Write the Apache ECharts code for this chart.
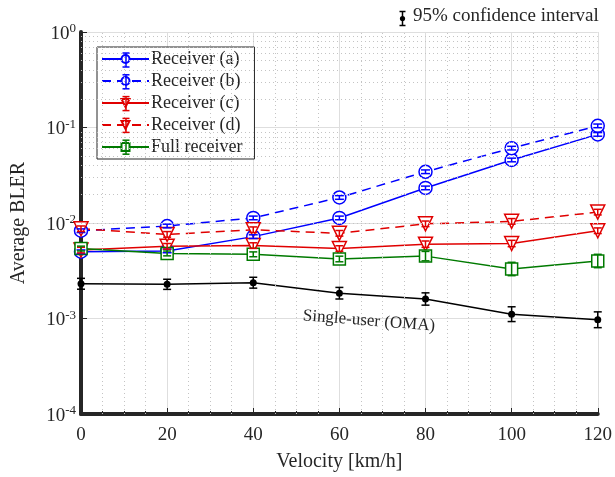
<!DOCTYPE html>
<html>
<head>
<meta charset="utf-8">
<script src="https://cdn.jsdelivr.net/npm/echarts@6/dist/echarts.min.js"></script>
<style>
  html, body { margin: 0; padding: 0; background: #fff; }
  #chart { width: 615px; height: 477px; }
</style>
</head>
<body>
<div id="chart"></div>
<script>
// velocities (km/h)
const velocity = [0, 20, 40, 60, 80, 100, 120]

// average BLER
const recA = [0.0050, 0.0051, 0.0072, 0.0113, 0.0233, 0.0457, 0.0847]
const recB = [0.0083, 0.0093, 0.0113, 0.0185, 0.0344, 0.0608, 0.1040]
const recC = [0.0052, 0.0057, 0.0058, 0.0054, 0.0060, 0.0061, 0.0083]
const recD = [0.0087, 0.0076, 0.0085, 0.0078, 0.0098, 0.0104, 0.0130]
const fullRec = [0.0054, 0.0048, 0.0047, 0.0042, 0.0045, 0.0033, 0.0040]
const singleUser = [0.00231, 0.00228, 0.00237, 0.00184, 0.00160, 0.00111, 0.00097]

// 95% confidence interval as multiplicative factor (value / f .. value * f)
const errA = [1.045, 1.045, 1.045, 1.045, 1.045, 1.045, 1.045]
const errB = [1.045, 1.045, 1.045, 1.045, 1.045, 1.045, 1.045]
const errC = [1.07, 1.07, 1.07, 1.07, 1.08, 1.08, 1.07]
const errD = [1.07, 1.07, 1.07, 1.07, 1.07, 1.07, 1.07]
const errFull = [1.06, 1.06, 1.06, 1.07, 1.12, 1.175, 1.175]
const errSingle = [1.14, 1.13, 1.14, 1.15, 1.16, 1.195, 1.21]

const yMinor = [2, 3, 4, 5, 6, 7, 8, 9]
const yDecades = [1e-4, 1e-3, 1e-2, 1e-1]
const xMinor = [5, 10, 15, 25, 30, 35, 45, 50, 55, 65, 70, 75, 85, 90, 95, 105, 110, 115]

const legendNames = ['Receiver (a)', 'Receiver (b)', 'Receiver (c)', 'Receiver (d)', 'Full receiver']
const legendColors = ['#0000ff', '#0000ff', '#e00000', '#e00000', '#007a00']

const FONT = '"Liberation Serif", "Times New Roman", serif'
const INK = '#262626'
const BLUE = '#0000ff'
const RED = '#e00000'
const GREEN = '#007a00'

function pairs (vals) {
  return velocity.map((v, i) => [v, vals[i]])
}

function errData (vals, err) {
  return velocity.map((v, i) => [v, vals[i] / err[i], vals[i] * err[i]])
}

// 误差棒（自定义系列）
function errSeries (name, vals, err, color, capW) {
  return {
    name: name,
    type: 'custom',
    data: errData(vals, err),
    encode: { x: 0, y: [1, 2] },
    z: 5,
    silent: true,
    renderItem: function (params, api) {
      const x = api.value(0)
      const top = api.coord([x, api.value(2)])
      const bot = api.coord([x, api.value(1)])
      const w = capW
      const style = { stroke: color, lineWidth: 1.5 }
      return {
        type: 'group',
        children: [
          { type: 'line', shape: { x1: top[0], y1: top[1], x2: bot[0], y2: bot[1] }, style: style },
          { type: 'line', shape: { x1: top[0] - w, y1: top[1], x2: top[0] + w, y2: top[1] }, style: style },
          { type: 'line', shape: { x1: bot[0] - w, y1: bot[1], x2: bot[0] + w, y2: bot[1] }, style: style }
        ]
      }
    }
  }
}

function lineSeries (name, vals, color, dashed, symbol, size, rotate) {
  return {
    name: name,
    type: 'line',
    data: pairs(vals),
    symbol: symbol,
    symbolSize: size,
    symbolRotate: rotate || 0,
    showAllSymbol: true,
    z: 4,
    lineStyle: { color: color, width: 1.5, type: dashed ? [9, 6] : 'solid' },
    itemStyle: { color: '#fff', borderColor: color, borderWidth: 1.5 },
    emphasis: { disabled: true }
  }
}

const minorLines = []
yDecades.forEach(d => yMinor.forEach(m => minorLines.push({ yAxis: d * m })))
xMinor.forEach(x => minorLines.push({ xAxis: x }))

// 图例里的误差棒小图标
const legendBars = legendNames.map((n, i) => {
  const c = legendColors[i]
  const s = { stroke: c, lineWidth: 1.5 }
  return {
    type: 'group',
    x: 126,
    y: 60 + i * 21.8,
    z: 200,
    children: [
      { type: 'line', z: 200, shape: { x1: 0, y1: -7, x2: 0, y2: 7 }, style: s },
      { type: 'line', z: 200, shape: { x1: -3.5, y1: -7, x2: 3.5, y2: -7 }, style: s },
      { type: 'line', z: 200, shape: { x1: -3.5, y1: 7, x2: 3.5, y2: 7 }, style: s }
    ]
  }
})

const option = {
  animation: false,
  backgroundColor: '#fff',
  textStyle: { fontFamily: FONT },
  grid: { left: 81, right: 14, top: 32, bottom: 57 },
  legend: {
    data: legendNames,
    orient: 'vertical',
    left: 97,
    top: 47,
    itemWidth: 47,
    itemHeight: 10,
    itemGap: 4,
    padding: [3, 12, 3, 4],
    backgroundColor: '#fff',
    borderColor: INK,
    borderWidth: 1,
    textStyle: { fontFamily: FONT, fontSize: 18, lineHeight: 18, color: INK, padding: [0, 0, 0, -3] }
  },
  xAxis: {
    type: 'value',
    min: 0,
    max: 120,
    interval: 20,
    name: 'Velocity [km/h]',
    nameLocation: 'middle',
    nameGap: 38,
    nameTextStyle: { fontFamily: FONT, fontSize: 20, color: INK },
    axisLine: { onZero: false, lineStyle: { color: INK, width: 4 } },
    axisTick: { inside: true, length: 6, lineStyle: { color: INK, width: 1 } },
    minorTick: { show: true, splitNumber: 4, length: 3, lineStyle: { color: INK } },
    axisLabel: { fontFamily: FONT, fontSize: 19, color: INK, margin: 12 },
    splitLine: { show: true, lineStyle: { color: '#dedede', width: 1 } }
  },
  yAxis: {
    type: 'log',
    logBase: 10,
    min: 1e-4,
    max: 1,
    name: 'Average BLER',
    nameLocation: 'middle',
    nameGap: 52,
    nameTextStyle: { fontFamily: FONT, fontSize: 20, color: INK },
    axisLine: { onZero: false, lineStyle: { color: INK, width: 4 } },
    axisTick: { inside: true, length: 6, lineStyle: { color: INK, width: 1 } },
    axisLabel: {
      margin: 5,
      formatter: function (v) {
        const e = Math.round(Math.log10(v))
        return '{b|10}{s|' + e + '}'
      },
      rich: {
        b: { fontFamily: FONT, fontSize: 19, color: INK, padding: [4, 0, 0, 0] },
        s: { fontFamily: FONT, fontSize: 13, color: INK, verticalAlign: 'bottom', padding: [0, 0, 8, 0] }
      }
    },
    splitLine: { show: true, lineStyle: { color: '#dedede', width: 1 } }
  },
  graphic: legendBars.concat([
    {
      type: 'text',
      left: 413,
      top: 7,
      style: { text: '95% confidence interval', fontFamily: FONT, fontSize: 19, fill: INK }
    },
    {
      type: 'group',
      left: 397,
      top: 9,
      children: [
        { type: 'line', shape: { x1: 3, y1: 0, x2: 3, y2: 14 }, style: { stroke: '#000', lineWidth: 1.5 } },
        { type: 'line', shape: { x1: 0, y1: 0, x2: 6, y2: 0 }, style: { stroke: '#000', lineWidth: 1.5 } },
        { type: 'line', shape: { x1: 0, y1: 14, x2: 6, y2: 14 }, style: { stroke: '#000', lineWidth: 1.5 } },
        { type: 'circle', shape: { cx: 3, cy: 7, r: 2.6 }, style: { fill: '#000' } }
      ]
    },
    {
      type: 'text',
      x: 369,
      y: 321,
      z: 10,
      rotation: -0.08,
      style: {
        text: 'Single-user (OMA)',
        fontFamily: FONT,
        fontSize: 17,
        fill: INK,
        align: 'center',
        verticalAlign: 'middle'
      }
    }
  ]),
  series: [
    {
      name: 'minor grid',
      type: 'line',
      data: [],
      z: 1,
      markLine: {
        silent: true,
        symbol: ['none', 'none'],
        label: { show: false },
        lineStyle: { color: '#c4c4c4', type: [1, 3], width: 1 },
        animation: false,
        data: minorLines
      }
    },
    lineSeries('Receiver (a)', recA, BLUE, false, 'circle', 13),
    lineSeries('Receiver (b)', recB, BLUE, true, 'circle', 13),
    lineSeries('Receiver (c)', recC, RED, false, 'triangle', 14, 180),
    lineSeries('Receiver (d)', recD, RED, true, 'triangle', 14, 180),
    lineSeries('Full receiver', fullRec, GREEN, false, 'rect', 12),
    {
      name: 'Single-user (OMA)',
      type: 'line',
      data: pairs(singleUser),
      symbol: 'circle',
      symbolSize: 7,
      z: 4,
      lineStyle: { color: '#000', width: 1.5 },
      itemStyle: { color: '#000' },
      emphasis: { disabled: true }
    },
    errSeries('errA', recA, errA, BLUE, 4.5),
    errSeries('errB', recB, errB, BLUE, 4.5),
    errSeries('errC', recC, errC, RED, 4),
    errSeries('errD', recD, errD, RED, 4),
    errSeries('errFull', fullRec, errFull, GREEN, 4),
    errSeries('errSingle', singleUser, errSingle, '#000', 4)
  ]
}

const myChart = echarts.init(document.getElementById('chart'))
myChart.setOption(option)
</script>
</body>
</html>
